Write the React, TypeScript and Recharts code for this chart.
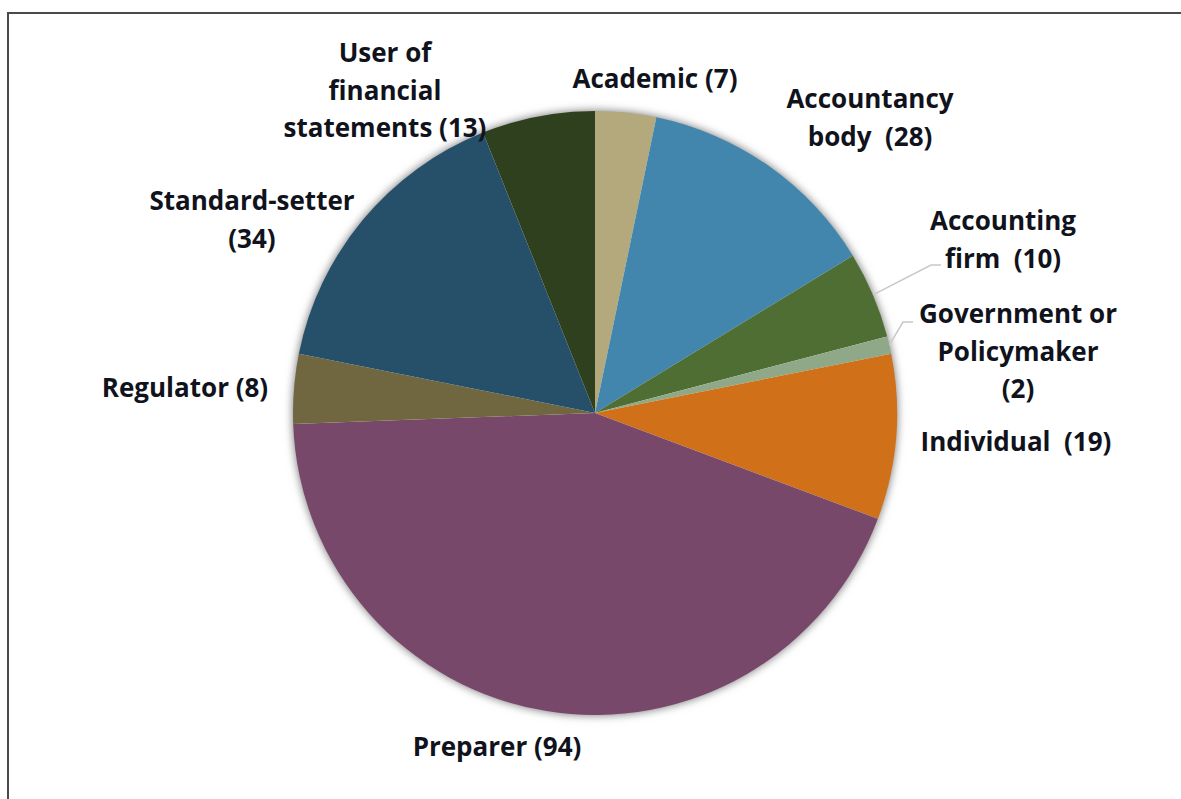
import * as React from "react"
import { PieChart, Pie, Cell } from "recharts"

const categories = [
  "Academic",
  "Accountancy body",
  "Accounting firm",
  "Government or Policymaker",
  "Individual",
  "Preparer",
  "Regulator",
  "Standard-setter",
  "User of financial statements",
]
const responses = [7, 28, 10, 2, 19, 94, 8, 34, 13]
const labelLines = [
  ["Academic (7)"],
  ["Accountancy", "body  (28)"],
  ["Accounting", "firm  (10)"],
  ["Government or", "Policymaker", "(2)"],
  ["Individual  (19)"],
  ["Preparer (94)"],
  ["Regulator (8)"],
  ["Standard-setter", "(34)"],
  ["User of", "financial", "statements (13)"],
]

const colors = [
  "#B3A97C",
  "#4286AE",
  "#4F6E33",
  "#8EA888",
  "#D07019",
  "#77486A",
  "#706640",
  "#265069",
  "#2F401E",
]

// label block centre relative to pie centre, first line baseline offset
const labelPos: { dx: number; dy: number }[] = [
  { dx: 60, dy: -335 },
  { dx: 275, dy: -315 },
  { dx: 408, dy: -193 },
  { dx: 423, dy: -100 },
  { dx: 421, dy: 28 },
  { dx: -98, dy: 333 },
  { dx: -410, dy: -26 },
  { dx: -343, dy: -213 },
  { dx: -210, dy: -361 },
]
// leader lines: from slice edge out to label
const leaders: Record<number, { r: number; ex: number; ey: number }> = {
  2: { r: 302, ex: 336, ey: -148 },
  3: { r: 302, ex: 308, ey: -91 },
}

const data = categories.map((name, i) => ({ name, value: responses[i] }))
const total = responses.reduce((a, b) => a + b, 0)

const FONT = "'Open Sans', sans-serif"
const RAD = Math.PI / 180

const renderLabel = (props: any) => {
  const { cx, cy, midAngle, index } = props
  const pos = labelPos[index]
  const lines = labelLines[index]
  const lineH = 37.5
  const x = cx + pos.dx
  const y0 = cy + pos.dy
  const lead = leaders[index]
  let path: React.ReactNode = null
  if (lead) {
    const sx = cx + lead.r * Math.cos(-midAngle * RAD)
    const sy = cy + lead.r * Math.sin(-midAngle * RAD)
    const ex = cx + lead.ex
    const ey = cy + lead.ey
    path = (
      <polyline
        points={`${sx},${sy} ${ex},${ey} ${ex + 10},${ey}`}
        fill="none"
        stroke="#c8c8c8"
        strokeWidth={1.5}
      />
    )
  }
  return (
    <g key={`lbl-${index}`}>
      {path}
      <text
        x={x}
        y={y0}
        textAnchor="middle"
        dominantBaseline="central"
        fontFamily={FONT}
        fontWeight={700}
        fontSize={26}
        fill="#10131c"
        style={{ whiteSpace: "pre" }}
      >
        {lines.map((l, i) => (
          <tspan key={i} x={x} y={y0 + i * lineH}>
            {l}
          </tspan>
        ))}
      </text>
    </g>
  )
}

export default function App() {
  return (
    <div style={{ position: "relative", width: 1181, height: 799, background: "#fff", overflow: "hidden" }}>
      <style>{`body{margin:0} .pie-shadow{filter:drop-shadow(0 0 5px rgba(0,0,0,0.35))}`}</style>
      <div
        style={{
          position: "absolute",
          left: 7,
          top: 12,
          width: 1300,
          height: 900,
          borderTop: "2px solid #4a4a4a",
          borderLeft: "2px solid #4a4a4a",
        }}
      />
      <div style={{ position: "absolute", left: 0, top: 0 }}>
        <PieChart width={1181} height={799} margin={{ top: 0, right: 0, bottom: 0, left: 0 }}>
          <Pie
            data={[{ name: "all", value: total }]}
            dataKey="value"
            cx={595}
            cy={413}
            outerRadius={301}
            startAngle={90}
            endAngle={-270}
            fill="#ffffff"
            stroke="none"
            className="pie-shadow"
            isAnimationActive={false}
          />
          <Pie
            data={data}
            dataKey="value"
            nameKey="name"
            cx={595}
            cy={413}
            outerRadius={302}
            startAngle={90}
            endAngle={-270}
            stroke="none"
            label={renderLabel}
            labelLine={false}
            isAnimationActive={false}
          >
            {data.map((d, i) => (
              <Cell key={d.name} fill={colors[i]} />
            ))}
          </Pie>
        </PieChart>
      </div>
    </div>
  )
}
